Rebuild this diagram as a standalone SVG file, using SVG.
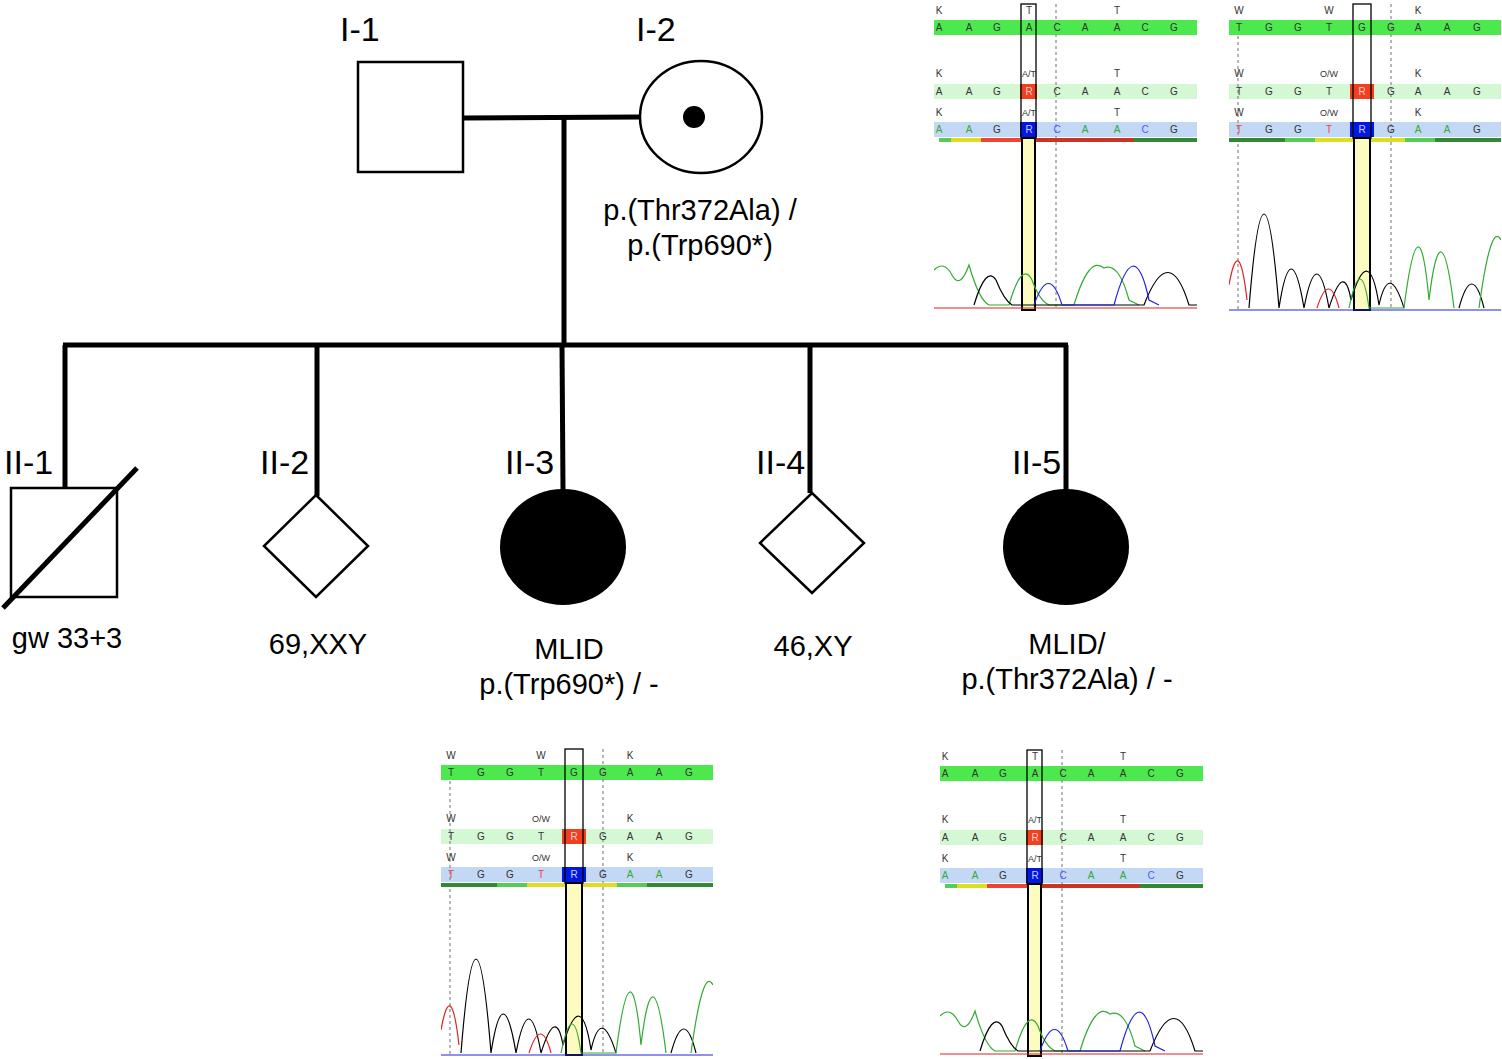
<svg xmlns="http://www.w3.org/2000/svg" xmlns:xlink="http://www.w3.org/1999/xlink" width="1502" height="1059" viewBox="0 0 1502 1059">
<style>
.ln{stroke:#000;stroke-width:5;fill:none}
.sh{stroke:#000;stroke-width:2.5;fill:#fff}
.lb{font-family:"Liberation Sans",Arial,sans-serif;font-size:34px;fill:#000}
.tx{font-family:"Liberation Sans",Arial,sans-serif;font-size:29px;fill:#000}
.sq{font-family:"Liberation Sans",Arial,sans-serif;font-size:10px;fill:#333;text-anchor:middle}
.sm{font-family:"Liberation Sans",Arial,sans-serif;font-size:9px;fill:#333;text-anchor:middle}
.dash{stroke:#888;stroke-width:1.2;stroke-dasharray:3,3}
.tr{fill:none;stroke-width:1.2}
</style>
<defs>
<symbol id="thr" viewBox="0 0 265 312" width="265" height="312">
<rect x="0" y="20" width="263" height="15" fill="#4de84d"/>
<rect x="0" y="84" width="263" height="15" fill="#d4f7d4"/>
<rect x="0" y="122" width="263" height="15" fill="#c2d8f5"/>
<line class="dash" x1="122" y1="4" x2="122" y2="310"/>
<rect x="86" y="84" width="17" height="15" fill="#f04020"/>
<rect x="86" y="122" width="17" height="15" fill="#0018e0"/>
<rect x="5" y="138" width="12" height="4" fill="#5c5"/><rect x="17" y="138" width="30" height="4" fill="#dd2"/><rect x="47" y="138" width="53" height="4" fill="#e43"/><rect x="100" y="138" width="100" height="4" fill="#c32"/><rect x="200" y="138" width="63" height="4" fill="#383"/>
<rect x="88" y="138" width="13" height="172" fill="#fdfcc0" stroke="#000" stroke-width="2"/>
<rect x="87" y="4" width="15" height="134" fill="none" stroke="#000" stroke-width="1.3"/>
<g class="sq"><text x="5" y="14">K</text><text x="95" y="14">T</text><text x="183" y="14">T</text>
<text x="5" y="31">A</text><text x="35" y="31">A</text><text x="63" y="31">G</text><text x="95" y="31">A</text><text x="123" y="31">C</text><text x="151" y="31">A</text><text x="183" y="31">A</text><text x="211" y="31">C</text><text x="240" y="31">G</text>
<text x="5" y="77">K</text><text x="95" y="77" class="sm">A/T</text><text x="183" y="77">T</text>
<text x="5" y="95">A</text><text x="35" y="95">A</text><text x="63" y="95">G</text><text x="95" y="95" fill="#fcc">R</text><text x="123" y="95">C</text><text x="151" y="95">A</text><text x="183" y="95">A</text><text x="211" y="95">C</text><text x="240" y="95">G</text>
<text x="5" y="116">K</text><text x="95" y="116" class="sm">A/T</text><text x="183" y="116">T</text>
<text x="5" y="133" fill="#3a3">A</text><text x="35" y="133" fill="#3a3">A</text><text x="63" y="133">G</text><text x="95" y="133" fill="#ccf">R</text><text x="123" y="133" fill="#55f">C</text><text x="151" y="133" fill="#3a3">A</text><text x="183" y="133" fill="#3a3">A</text><text x="211" y="133" fill="#55f">C</text><text x="240" y="133">G</text></g>
<path class="tr" stroke="#3a3" d="M0,270 Q10,260 18,275 T35,265 Q45,300 55,305 L75,305 Q88,260 98,280 Q105,300 115,305 L140,305 Q155,255 170,268 Q185,262 195,300 L205,305"/>
<path class="tr" stroke="#000" d="M40,305 Q52,265 62,280 Q70,300 78,305 L210,305 Q235,240 255,305 L263,305"/>
<path class="tr" stroke="#22d" d="M100,305 Q115,262 128,305 L180,305 Q200,230 215,300 L225,305"/>
<path class="tr" stroke="#d22" d="M0,308 L263,308"/>
</symbol>
<symbol id="trp" viewBox="0 0 272 312" width="272" height="312">
<rect x="0" y="20" width="272" height="15" fill="#4de84d"/>
<rect x="0" y="84" width="272" height="15" fill="#d4f7d4"/>
<rect x="0" y="122" width="272" height="15" fill="#c2d8f5"/>
<line class="dash" x1="9" y1="36" x2="9" y2="310"/>
<line class="dash" x1="162" y1="4" x2="162" y2="310"/>
<rect x="121" y="84" width="24" height="15" fill="#f04020"/>
<rect x="121" y="122" width="24" height="15" fill="#0018e0"/>
<rect x="0" y="138" width="56" height="4" fill="#383"/><rect x="56" y="138" width="30" height="4" fill="#5c5"/><rect x="86" y="138" width="90" height="4" fill="#dd2"/><rect x="176" y="138" width="30" height="4" fill="#5c5"/><rect x="206" y="138" width="66" height="4" fill="#383"/>
<rect x="125" y="138" width="16" height="172" fill="#fdfcc0" stroke="#000" stroke-width="2"/>
<rect x="124" y="4" width="18" height="134" fill="none" stroke="#000" stroke-width="1.3"/>
<g class="sq"><text x="10" y="14">W</text><text x="100" y="14">W</text><text x="189" y="14">K</text>
<text x="10" y="31">T</text><text x="40" y="31">G</text><text x="69" y="31">G</text><text x="100" y="31">T</text><text x="133" y="31">G</text><text x="162" y="31">G</text><text x="189" y="31">A</text><text x="218" y="31">A</text><text x="248" y="31">G</text>
<text x="10" y="77">W</text><text x="100" y="77" class="sm">O/W</text><text x="189" y="77">K</text>
<text x="10" y="95">T</text><text x="40" y="95">G</text><text x="69" y="95">G</text><text x="100" y="95">T</text><text x="133" y="95" fill="#fcc">R</text><text x="162" y="95">G</text><text x="189" y="95">A</text><text x="218" y="95">A</text><text x="248" y="95">G</text>
<text x="10" y="116">W</text><text x="100" y="116" class="sm">O/W</text><text x="189" y="116">K</text>
<text x="10" y="133" fill="#e44">T</text><text x="40" y="133">G</text><text x="69" y="133">G</text><text x="100" y="133" fill="#e44">T</text><text x="133" y="133" fill="#ccf">R</text><text x="162" y="133">G</text><text x="189" y="133" fill="#3a3">A</text><text x="218" y="133" fill="#3a3">A</text><text x="248" y="133">G</text></g>
<path class="tr" stroke="#000" d="M20,308 Q35,120 50,308 Q62,230 75,308 Q88,240 100,308 Q115,260 122,300 Q140,240 150,305 Q160,260 175,308 M230,308 Q243,260 255,308"/>
<path class="tr" stroke="#d22" d="M0,285 Q10,230 18,300 M88,308 Q100,270 110,308"/>
<path class="tr" stroke="#3a3" d="M120,308 Q132,250 140,308 L175,308 Q190,190 200,300 Q212,200 225,308 M250,308 Q262,220 272,240"/>
<path class="tr" stroke="#22d" d="M0,310 L272,310"/>
</symbol>
</defs>

<g id="connectors">
<line class="ln" x1="463" y1="118" x2="640" y2="117"/>
<line class="ln" x1="564" y1="118" x2="564" y2="345"/>
<line class="ln" x1="63" y1="345" x2="1068" y2="345"/>
<line class="ln" x1="65" y1="345" x2="65" y2="488"/>
<line class="ln" x1="317" y1="345" x2="317" y2="496"/>
<line class="ln" x1="562" y1="345" x2="563" y2="490"/>
<line class="ln" x1="810" y1="345" x2="810" y2="493"/>
<line class="ln" x1="1066" y1="345" x2="1066" y2="490"/>
</g>

<g id="I-1"><rect class="sh" x="358" y="62" width="105" height="110"/><text class="lb" x="340" y="41">I-1</text></g>
<g id="I-2"><ellipse class="sh" cx="701" cy="117" rx="61" ry="56"/><circle cx="694" cy="117" r="11"/><text class="lb" x="636" y="41">I-2</text>
<text class="tx" x="700" y="220" text-anchor="middle">p.(Thr372Ala) /</text><text class="tx" x="700" y="255" text-anchor="middle">p.(Trp690*)</text></g>

<g id="II-1"><rect class="sh" x="11" y="488" width="106" height="109"/><line class="ln" x1="3" y1="608" x2="137" y2="468" stroke-width="4"/><text class="lb" x="4" y="474">II-1</text><text class="tx" x="67" y="648" text-anchor="middle">gw 33+3</text></g>
<g id="II-2"><polygon class="sh" points="316,495 368,546 316,597 264,546"/><text class="lb" x="260" y="474">II-2</text><text class="tx" x="318" y="654" text-anchor="middle">69,XXY</text></g>
<g id="II-3"><ellipse cx="563" cy="547" rx="63" ry="58"/><text class="lb" x="505" y="474">II-3</text><text class="tx" x="569" y="659" text-anchor="middle">MLID</text><text class="tx" x="569" y="694" text-anchor="middle">p.(Trp690*) / -</text></g>
<g id="II-4"><polygon class="sh" points="812,493 864,543 812,593 760,543"/><text class="lb" x="756" y="474">II-4</text><text class="tx" x="813" y="656" text-anchor="middle">46,XY</text></g>
<g id="II-5"><ellipse cx="1066" cy="547" rx="63" ry="58"/><text class="lb" x="1012" y="474">II-5</text><text class="tx" x="1067" y="654" text-anchor="middle">MLID/</text><text class="tx" x="1067" y="689" text-anchor="middle">p.(Thr372Ala) / -</text></g>

<g id="chromatograms">
<use xlink:href="#thr" href="#thr" x="934" y="0"/>
<use xlink:href="#trp" href="#trp" x="1229" y="0"/>
<use xlink:href="#trp" href="#trp" x="441" y="745"/>
<use xlink:href="#thr" href="#thr" x="940" y="746"/>
</g>
</svg>
